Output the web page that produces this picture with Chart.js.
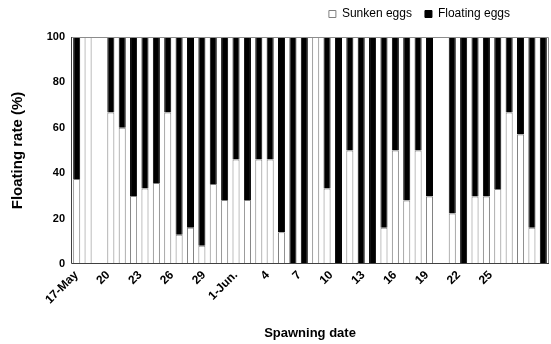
<!DOCTYPE html>
<html>
<head>
<meta charset="utf-8">
<script src="https://cdn.jsdelivr.net/npm/chart.js@4"></script>
<style>
  html, body { margin: 0; padding: 0; background: #fff; }
  #wrap { width: 551px; height: 344px; }
</style>
</head>
<body>
<div id="wrap"><canvas id="eggChart" width="551" height="344"></canvas></div>
<script>
// one bar per spawning batch
const barDates = [
    '17-May', '18-May', '19-May', '20-May', '21-May', '22-May', '23-May', '24-May',
    '25-May', '26-May', '27-May', '28-May', '29-May', '30-May', '31-May',
    '1-Jun', '2-Jun', '3-Jun', '4-Jun', '5-Jun', '6-Jun', '7-Jun', '8-Jun', '9-Jun',
    '10-Jun', '11-Jun', '12-Jun', '13-Jun', '14-Jun', '15-Jun', '16-Jun', '17-Jun',
    '18-Jun', '19-Jun', '20-Jun', '21-Jun', '22-Jun', '23-Jun', '24-Jun', '25-Jun',
    '26-Jun', '27-Jun'
];

// % of eggs (null = no spawning)
const sunkenEggs = [
    37.5, 100, null, 66.7, 60, 30, 33.3, 35.7, 66.7, 12.9, 16, 8, 35.2, 28.2,
    46, 28.2, 46, 46, 14, 0, 0, 100, 33.3, 0, 50, 0, 0, 16, 50, 28,
    50, 29.7, null, 22.3, 0, 29.7, 29.7, 33, 66.7, 57, 16, 0
];
const floatingEggs = [
    62.5, 0, null, 33.3, 40, 70, 66.7, 64.3, 33.3, 87.1, 84, 92, 64.8, 71.8,
    54, 71.8, 54, 54, 86, 100, 100, 0, 66.7, 100, 50, 100, 100, 84, 50, 72,
    50, 70.3, null, 77.7, 100, 70.3, 70.3, 67, 33.3, 43, 84, 100
];

// date axis labels (day number counted from 17-May)
const tickDays = [0, 3, 6, 9, 12, 15, 18, 21, 24, 27, 30, 33, 36, 39];
const tickLabels = ['17-May', '20', '23', '26', '29', '1-Jun.', '4', '7', '10', '13', '16', '19', '22', '25'];
const dayCount = 45;

const yTicks = [0, 20, 40, 60, 80, 100];

const FONT = "'Liberation Sans', Arial, sans-serif";

// box round the plot area
const frame = {
    id: 'frame',
    afterDatasetsDraw(chart) {
        const a = chart.chartArea;
        const c = chart.ctx;
        c.save();
        c.lineWidth = 1;
        c.strokeStyle = '#8c8c8c';
        c.beginPath();
        c.moveTo(a.left, a.top + 0.5);
        c.lineTo(a.right - 0.5, a.top + 0.5);
        c.lineTo(a.right - 0.5, a.bottom);
        c.stroke();
        c.strokeStyle = '#404040';
        c.beginPath();
        c.moveTo(a.left + 0.5, a.top);
        c.lineTo(a.left + 0.5, a.bottom - 0.5);
        c.lineTo(a.right, a.bottom - 0.5);
        c.stroke();
        c.restore();
    }
};

// blank slot after the last legend entry, keeps the legend off the right edge
function legendLabels(chart) {
    const items = Chart.defaults.plugins.legend.labels.generateLabels(chart);
    items.push({ text: '', fillStyle: 'rgba(0,0,0,0)', strokeStyle: 'rgba(0,0,0,0)', lineWidth: 0, hidden: false });
    return items;
}

new Chart(document.getElementById('eggChart'), {
    type: 'bar',
    data: {
        labels: barDates,
        datasets: [{
            label: 'Sunken eggs',
            data: sunkenEggs,
            backgroundColor: '#ffffff',
            borderColor: '#7f7f7f',
            borderWidth: 1,
            categoryPercentage: 1,
            barPercentage: 0.62,
            xAxisID: 'x'
        }, {
            label: 'Floating eggs',
            data: floatingEggs,
            backgroundColor: '#000000',
            borderColor: '#000000',
            borderWidth: 1,
            categoryPercentage: 1,
            barPercentage: 0.62,
            xAxisID: 'x'
        }]
    },
    options: {
        responsive: false,
        animation: false,
        devicePixelRatio: 1,
        layout: { padding: { left: 6, right: 2, top: -5, bottom: 0 } },
        plugins: {
            legend: {
                position: 'top',
                align: 'end',
                labels: {
                    boxWidth: 7,
                    boxHeight: 7,
                    padding: 13,
                    color: '#000',
                    font: { family: FONT, size: 12 },
                    generateLabels: legendLabels
                }
            },
            // empty spacer between legend and plot
            subtitle: {
                display: true,
                text: '',
                weight: 500,
                padding: 0,
                font: { size: 7, lineHeight: 1 }
            },
            tooltip: { enabled: false }
        },
        scales: {
            x: {
                display: false,
                stacked: true
            },
            xDate: {
                type: 'linear',
                position: 'bottom',
                offset: false,
                min: -0.5,
                max: dayCount - 0.5,
                afterBuildTicks: s => { s.ticks = tickDays.map(v => ({ value: v })); },
                afterFit: s => { s.height = 80; },
                grid: { display: false },
                border: { display: false },
                ticks: {
                    autoSkip: false,
                    minRotation: 45,
                    maxRotation: 45,
                    padding: -4,
                    color: '#000',
                    font: { family: FONT, size: 12, weight: 'bold' },
                    callback: v => tickLabels[tickDays.indexOf(v)]
                },
                title: {
                    display: true,
                    text: 'Spawning date',
                    color: '#000',
                    padding: { top: 4, bottom: 3 },
                    font: { family: FONT, size: 13, weight: 'bold' }
                }
            },
            y: {
                stacked: true,
                min: 0,
                max: 100,
                afterBuildTicks: s => { s.ticks = yTicks.map(v => ({ value: v })); },
                afterFit: s => { s.width = 65; },
                grid: { display: false, drawTicks: false },
                border: { display: false },
                ticks: {
                    padding: 6,
                    color: '#000',
                    font: { family: FONT, size: 11, weight: 'bold' }
                },
                title: {
                    display: true,
                    text: 'Floating rate (%)',
                    color: '#000',
                    padding: { top: 3, bottom: 0 },
                    font: { family: FONT, size: 15, weight: 'bold' }
                }
            }
        }
    },
    plugins: [frame]
});
</script>
</body>
</html>
